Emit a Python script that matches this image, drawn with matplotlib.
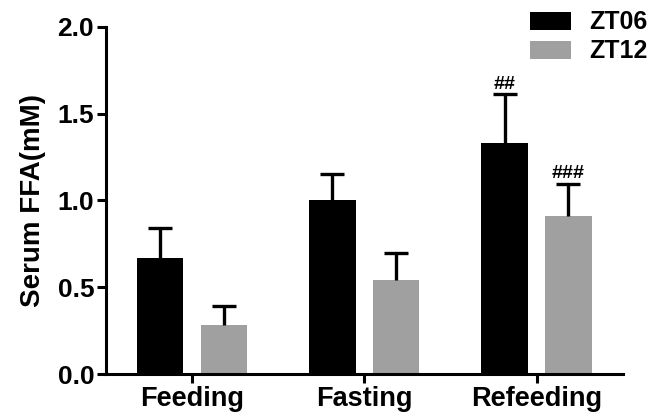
import numpy as np
import matplotlib.pyplot as plt

plt.rcParams['font.family'] = ['Liberation Sans', 'DejaVu Sans']
plt.rcParams['font.weight'] = 'bold'

groups = ['Feeding', 'Fasting', 'Refeeding']
zt06 = [0.67, 1.00, 1.33]
zt06_err = [0.17, 0.155, 0.28]
zt12 = [0.28, 0.54, 0.91]
zt12_err = [0.115, 0.16, 0.185]
marks06 = ['', '', '##']
marks12 = ['', '', '###']

fig = plt.figure(figsize=(6.5, 4.18), dpi=100)
ax = fig.add_axes([0.163, 0.105, 0.795, 0.831])

x = np.arange(len(groups))
w = 0.27
off = 0.185
ax.bar(x - off, zt06, w, color='black', label='ZT06')
ax.bar(x + off, zt12, w, color='#a0a0a0', label='ZT12')
for xs, ys, es in [(x - off, zt06, zt06_err), (x + off, zt12, zt12_err)]:
    eb = ax.errorbar(xs, ys, yerr=[np.zeros(3), es], fmt='none',
                     ecolor='black', elinewidth=2.4, capsize=8.3, capthick=2.4)
    # only the upper cap, like the original
    eb[1][0].set_visible(False)

for i in range(3):
    if marks06[i]:
        ax.text(x[i] - off, zt06[i] + zt06_err[i] + 0.01, marks06[i],
                ha='center', va='bottom', fontsize=14)
    if marks12[i]:
        ax.text(x[i] + off, zt12[i] + zt12_err[i] + 0.01, marks12[i],
                ha='center', va='bottom', fontsize=14)

ax.set_xlim(-0.5, 2.5)
ax.set_ylim(0, 2.0)
ax.set_yticks([0, 0.5, 1.0, 1.5, 2.0])
ax.set_yticklabels(['0.0', '0.5', '1.0', '1.5', '2.0'], fontsize=19)
ax.set_xticks(x)
ax.set_xticklabels(groups, fontsize=19.5)
ax.set_ylabel('Serum FFA(mM)', fontsize=20, fontweight='bold', labelpad=8)

for s in ['top', 'right']:
    ax.spines[s].set_visible(False)
for s in ['left', 'bottom']:
    ax.spines[s].set_linewidth(2.2)
ax.tick_params(width=2.2, length=6.5, direction='out', pad=2)

leg = fig.legend(loc='upper right', bbox_to_anchor=(0.997, 0.975), frameon=False,
                 fontsize=18, handlelength=1.65, handleheight=0.72,
                 handletextpad=0.75, labelspacing=0.2, borderpad=0,
                 borderaxespad=0)

fig.savefig('out.png', dpi=100)
